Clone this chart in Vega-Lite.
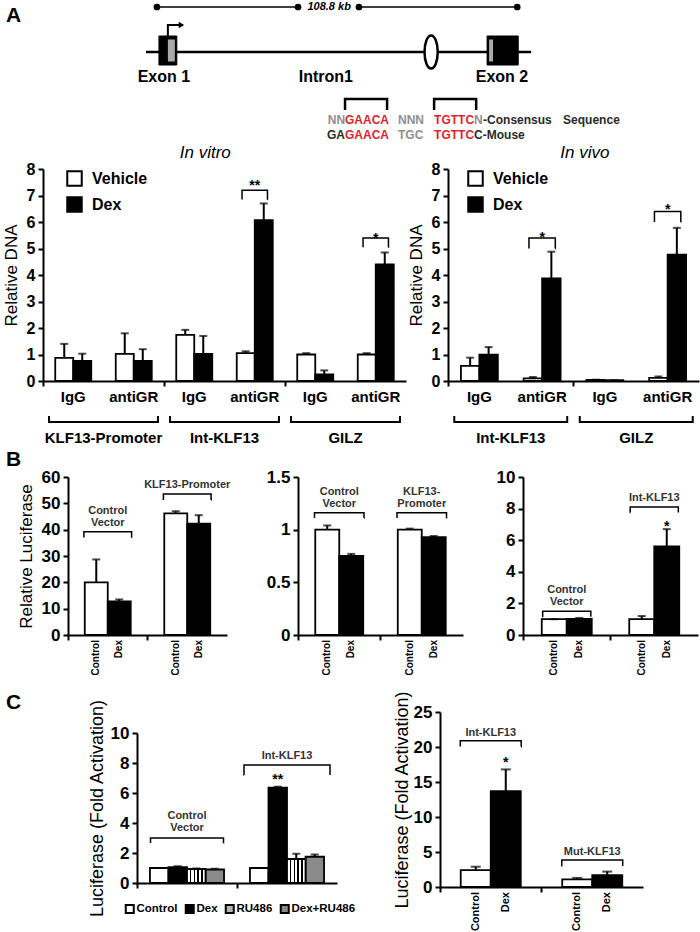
{
"$schema":"https://vega.github.io/schema/vega-lite/v6.json",
"width":700,"height":932,"autosize":{"type":"none"},"padding":0,"background":"white",
"config":{"view":{"stroke":null},"font":"Liberation Sans","mark":{"color":"black"},
"axis":{"domainColor":"black","domainWidth":2,"tickColor":"black","tickWidth":2,"labelColor":"black","labelFont":"Liberation Sans","labelFontWeight":"bold","titleFont":"Liberation Sans","titleFontWeight":"normal","titleColor":"black","grid":false},
"legend":{"labelFont":"Liberation Sans","labelColor":"black"},"text":{"font":"Liberation Sans","color":"black"}},
"datasets":{
"gene_scalebar":[{"x":0,"x2":42.6},{"x":61.0,"x2":108.8}],
"gene_dots":[{"x":0},{"x":42.6},{"x":61.0},{"x":108.8}],
"gene_scale_label":[{"x":52.0,"label":"108.8 kb"}],
"gene_body":[{"x":-3.3,"x2":113}],
"gene_exons":[{"exon":"Exon 1","x":0.6,"x2":6.0},{"exon":"Exon 2","x":99.7,"x2":109.1}],
"gene_exon_utr":[{"x":3.3,"x2":5.4},{"x":100.3,"x2":101.5}],
"gene_gre":[{"x":82.8}],
"gene_tss":[{"x":3.3,"y":10.4,"step":1},{"x":3.3,"y":11.5,"step":2},{"x":7.0,"y":11.5,"step":3}],
"gene_tss_head":[{"x":7.4,"y":11.5}],
"gene_labels":[{"x":2.1,"label":"Exon 1"},{"x":51.0,"label":"Intron1"},{"x":104.2,"label":"Exon 2"}],
"seq_brackets":[{"b":1,"x":56.8,"y":3.0,"step":1},{"b":1,"x":56.8,"y":4.1,"step":2},{"b":1,"x":69.5,"y":4.1,"step":3},{"b":1,"x":69.5,"y":3.0,"step":4},{"b":2,"x":83.7,"y":3.0,"step":1},{"b":2,"x":83.7,"y":4.1,"step":2},{"b":2,"x":96.4,"y":4.1,"step":3},{"b":2,"x":96.4,"y":3.0,"step":4}],
"seq_text":[{"x":51.57,"y":2.0,"text":"NN","kind":"spacer"},{"x":56.8,"y":2.0,"text":"GAACA","kind":"motif"},{"x":72.8,"y":2.0,"text":"NNN","kind":"spacer"},{"x":83.69,"y":2.0,"text":"TGTTC","kind":"motif"},{"x":95.77,"y":2.0,"text":"N","kind":"spacer"},{"x":98.49,"y":2.0,"text":"-Consensus","kind":"note"},{"x":122.66,"y":2.0,"text":"Sequence","kind":"note"},{"x":51.36,"y":0.5,"text":"GA","kind":"note"},{"x":56.8,"y":0.5,"text":"GAACA","kind":"motif"},{"x":72.8,"y":0.5,"text":"TGC","kind":"spacer"},{"x":83.69,"y":0.5,"text":"TGTTC","kind":"motif"},{"x":95.77,"y":0.5,"text":"C-Mouse","kind":"note"}],
"panel_labels":[{"x":-45.6,"y":12.4,"label":"A"},{"x":-45.6,"y":-32.0,"label":"B"},{"x":-45.6,"y":-56.3,"label":"C"}],
"invitro":[{"sample":"KLF13-Promoter|IgG","treatment":"Vehicle","value":0.87,"err":1.4},{"sample":"KLF13-Promoter|IgG","treatment":"Dex","value":0.76,"err":1.03},{"sample":"KLF13-Promoter|antiGR","treatment":"Vehicle","value":1.02,"err":1.8},{"sample":"KLF13-Promoter|antiGR","treatment":"Dex","value":0.76,"err":1.2},{"sample":"Int-KLF13|IgG","treatment":"Vehicle","value":1.74,"err":1.93},{"sample":"Int-KLF13|IgG","treatment":"Dex","value":1.02,"err":1.7},{"sample":"Int-KLF13|antiGR","treatment":"Vehicle","value":1.05,"err":1.12},{"sample":"Int-KLF13|antiGR","treatment":"Dex","value":6.07,"err":6.7},{"sample":"GILZ|IgG","treatment":"Vehicle","value":1.0,"err":1.05},{"sample":"GILZ|IgG","treatment":"Dex","value":0.25,"err":0.4},{"sample":"GILZ|antiGR","treatment":"Vehicle","value":1.0,"err":1.05},{"sample":"GILZ|antiGR","treatment":"Dex","value":4.4,"err":4.85}],
"invitro_sig":[{"sample":"Int-KLF13|antiGR","top":7.2,"low":6.85,"star":7.19,"label":"**"},{"sample":"GILZ|antiGR","top":5.4,"low":5.05,"star":5.19,"label":"*"}],
"invitro_groups":[{"target":"KLF13-Promoter"},{"target":"Int-KLF13"},{"target":"GILZ"}],
"invivo":[{"sample":"Int-KLF13|IgG","treatment":"Vehicle","value":0.57,"err":0.88},{"sample":"Int-KLF13|IgG","treatment":"Dex","value":0.99,"err":1.28},{"sample":"Int-KLF13|antiGR","treatment":"Vehicle","value":0.1,"err":0.15},{"sample":"Int-KLF13|antiGR","treatment":"Dex","value":3.87,"err":4.88},{"sample":"GILZ|IgG","treatment":"Vehicle","value":0.04,"err":0.05},{"sample":"GILZ|IgG","treatment":"Dex","value":0.03,"err":0.03},{"sample":"GILZ|antiGR","treatment":"Vehicle","value":0.12,"err":0.17},{"sample":"GILZ|antiGR","treatment":"Dex","value":4.77,"err":5.78}],
"invivo_sig":[{"sample":"Int-KLF13|antiGR","top":5.4,"low":5.0,"star":5.26,"label":"*"},{"sample":"GILZ|antiGR","top":6.4,"low":6.0,"star":6.32,"label":"*"}],
"invivo_groups":[{"target":"Int-KLF13"},{"target":"GILZ"}],
"b1":[{"vector":"Control Vector","treatment":"Control","value":20,"err":28.7},{"vector":"Control Vector","treatment":"Dex","value":12.8,"err":13.5},{"vector":"KLF13-Promoter","treatment":"Control","value":46.2,"err":47},{"vector":"KLF13-Promoter","treatment":"Dex","value":42.3,"err":45.5}],
"b1_groups":[{"vector":"Control Vector","label":"Control\nVector","top":39.2,"low":37.0},{"vector":"KLF13-Promoter","label":"KLF13-Promoter","top":53.5,"low":51.3}],
"b2":[{"vector":"Control Vector","treatment":"Control","value":1.0,"err":1.04},{"vector":"Control Vector","treatment":"Dex","value":0.75,"err":0.77},{"vector":"KLF13-Promoter","treatment":"Control","value":1.0,"err":1.01},{"vector":"KLF13-Promoter","treatment":"Dex","value":0.93,"err":0.94}],
"b2_groups":[{"vector":"Control Vector","label":"Control\nVector","top":1.16,"low":1.11},{"vector":"KLF13-Promoter","label":"KLF13-\nPromoter","top":1.16,"low":1.11}],
"b3":[{"vector":"Control Vector","treatment":"Control","value":1.0,"err":1.0},{"vector":"Control Vector","treatment":"Dex","value":1.02,"err":1.08},{"vector":"Int-KLF13","treatment":"Control","value":1.0,"err":1.2},{"vector":"Int-KLF13","treatment":"Dex","value":5.6,"err":6.7}],
"b3_groups":[{"vector":"Control Vector","label":"Control\nVector","top":1.5,"low":1.15},{"vector":"Int-KLF13","label":"Int-KLF13","top":8.1,"low":7.75}],
"b3_sig":[{"vector":"Int-KLF13","treatment":"Dex","star":6.6,"label":"*"}],
"c1":[{"vector":"Control Vector","treatment":"Control","value":1.0,"err":1.0},{"vector":"Control Vector","treatment":"Dex","value":1.05,"err":1.12},{"vector":"Control Vector","treatment":"RU486","value":0.93,"err":0.97},{"vector":"Control Vector","treatment":"Dex+RU486","value":0.9,"err":0.95},{"vector":"Int-KLF13","treatment":"Control","value":1.0,"err":1.0},{"vector":"Int-KLF13","treatment":"Dex","value":6.35,"err":6.42},{"vector":"Int-KLF13","treatment":"RU486","value":1.6,"err":1.95},{"vector":"Int-KLF13","treatment":"Dex+RU486","value":1.75,"err":1.9}],
"c1_groups":[{"vector":"Control Vector","label":"Control\nVector","top":3.0,"low":2.67},{"vector":"Int-KLF13","label":"Int-KLF13","top":7.87,"low":7.2}],
"c1_sig":[{"vector":"Int-KLF13","treatment":"Dex","star":6.63,"label":"**"}],
"c2":[{"vector":"Int-KLF13","treatment":"Control","value":2.4,"err":2.9},{"vector":"Int-KLF13","treatment":"Dex","value":13.7,"err":16.8},{"vector":"Mut-KLF13","treatment":"Control","value":1.1,"err":1.3},{"vector":"Mut-KLF13","treatment":"Dex","value":1.7,"err":2.2}],
"c2_groups":[{"vector":"Int-KLF13","label":"Int-KLF13","top":20.9,"low":20.05},{"vector":"Mut-KLF13","label":"Mut-KLF13","top":3.86,"low":3.0}],
"c2_sig":[{"vector":"Int-KLF13","treatment":"Dex","star":17.2,"label":"*"}]
},
"layer":[
{"encoding":{"x":{"field":"x","type":"quantitative","scale":{"domain":[-47.4,164],"range":[0,700],"nice":false,"zero":false},"axis":null}},
 "layer":[
  {"data":{"name":"gene_scalebar"},"mark":{"type":"rule","strokeWidth":1.5},"encoding":{"x2":{"field":"x2"},"y":{"datum":13.3,"type":"quantitative","scale":{"domain":[0,14],"range":[140,0],"nice":false,"zero":false},"axis":null}}},
  {"data":{"name":"gene_dots"},"mark":{"type":"point","filled":true,"size":45,"opacity":1},"encoding":{"y":{"datum":13.3,"type":"quantitative","axis":null}}},
  {"data":{"name":"gene_scale_label"},"mark":{"type":"text","fontSize":11,"fontWeight":"bold","fontStyle":"italic","baseline":"middle"},"encoding":{"y":{"datum":13.3,"type":"quantitative","axis":null},"text":{"field":"label"}}},
  {"data":{"name":"gene_body"},"mark":{"type":"rule","strokeWidth":2.5},"encoding":{"x2":{"field":"x2"},"y":{"datum":8.8,"type":"quantitative","axis":null}}},
  {"data":{"name":"gene_exons"},"mark":{"type":"rect","fill":"black","stroke":"black","strokeWidth":1},"encoding":{"x2":{"field":"x2"},"y":{"datum":7.5,"type":"quantitative","axis":null},"y2":{"datum":10.4}}},
  {"data":{"name":"gene_exon_utr"},"mark":{"type":"rect","fill":"#a9a9a9"},"encoding":{"x2":{"field":"x2"},"y":{"datum":7.85,"type":"quantitative","axis":null},"y2":{"datum":10.05}}},
  {"data":{"name":"gene_gre"},"mark":{"type":"point","shape":"M0,-1A0.4,1,0,1,1,0,1A0.4,1,0,1,1,0,-1Z","size":1089,"filled":true,"fill":"white","stroke":"black","strokeWidth":2.5,"opacity":1},"encoding":{"y":{"datum":8.8,"type":"quantitative","axis":null}}},
  {"data":{"name":"gene_tss"},"mark":{"type":"line","strokeWidth":2},"encoding":{"y":{"field":"y","type":"quantitative","axis":null},"order":{"field":"step"}}},
  {"data":{"name":"gene_tss_head"},"mark":{"type":"point","shape":"triangle-right","filled":true,"size":40,"opacity":1},"encoding":{"y":{"field":"y","type":"quantitative","axis":null}}},
  {"data":{"name":"gene_labels"},"mark":{"type":"text","fontSize":16,"fontWeight":"bold","baseline":"middle"},"encoding":{"y":{"datum":6.3,"type":"quantitative","axis":null},"text":{"field":"label"}}},
  {"data":{"name":"seq_brackets"},"mark":{"type":"line","strokeWidth":2.5},"encoding":{"y":{"field":"y","type":"quantitative","axis":null},"detail":{"field":"b"},"order":{"field":"step"}}},
  {"data":{"name":"seq_text"},"mark":{"type":"text","align":"left","baseline":"middle","fontSize":12,"fontWeight":"bold"},"encoding":{"y":{"field":"y","type":"quantitative","axis":null},"text":{"field":"text"},"fill":{"field":"kind","type":"nominal","scale":{"domain":["spacer","motif","note"],"range":["#8f8f8f","#d9262e","#2a2a2a"]},"legend":null}}},
  {"data":{"name":"panel_labels"},"mark":{"type":"text","align":"left","baseline":"middle","fontSize":21,"fontWeight":"bold"},"encoding":{"y":{"field":"y","type":"quantitative","axis":null},"text":{"field":"label"}}}
 ]},
{"layer":[
  {"layer":[
   {"data":{"name":"invitro"},"mark":{"type":"bar","stroke":"black","strokeWidth":1.8},
    "encoding":{
     "x":{"field":"sample","type":"nominal","scale":{"domain":["KLF13-Promoter|IgG","KLF13-Promoter|antiGR","Int-KLF13|IgG","Int-KLF13|antiGR","GILZ|IgG","GILZ|antiGR"],"range":[43,406],"paddingInner":0,"paddingOuter":0},"axis":{"orient":"bottom","offset":-551,"title":null,"labelExpr":"split(datum.label,'|')[1]","ticks":false,"tickSize":0,"labelPadding":8,"labelFontSize":15,"labelAngle":0}},
     "xOffset":{"field":"treatment","type":"nominal","scale":{"domain":["Vehicle","Dex"],"paddingInner":0,"paddingOuter":0.68}},
     "y":{"field":"value","type":"quantitative","stack":null,"scale":{"domain":[0,8],"range":[381,169],"nice":false},"axis":{"orient":"left","offset":-43,"values":[0,1,2,3,4,5,6,7,8],"format":"~g","title":"Relative DNA","titleFontSize":17,"titlePadding":6,"labelFontSize":16,"tickSize":5,"labelPadding":3}},
     "fill":{"field":"treatment","type":"nominal","scale":{"domain":["Vehicle","Dex"],"range":["white","black"]},"legend":{"orient":"none","legendX":66,"legendY":170,"title":null,"symbolType":"square","symbolSize":210,"symbolStrokeColor":"black","symbolStrokeWidth":2,"labelFontSize":16,"labelFontWeight":"bold","labelOffset":9,"rowPadding":3,"padding":0}}}},
   {"data":{"name":"invitro"},"mark":{"type":"rule","strokeWidth":2},"encoding":{"x":{"field":"sample","type":"nominal"},"xOffset":{"field":"treatment","type":"nominal"},"y":{"field":"value","type":"quantitative"},"y2":{"field":"err"}}},
   {"data":{"name":"invitro"},"mark":{"type":"tick","orient":"horizontal","size":8,"thickness":2},"encoding":{"x":{"field":"sample","type":"nominal"},"xOffset":{"field":"treatment","type":"nominal"},"y":{"field":"err","type":"quantitative"}}},
   {"data":{"name":"invitro_sig"},"mark":{"type":"bar","width":{"band":0.42},"fill":"transparent","stroke":"black","strokeWidth":1.5,"strokeDash":[34.7,25.4,9.3,0]},"encoding":{"x":{"field":"sample","type":"nominal"},"y":{"field":"top","type":"quantitative"},"y2":{"field":"low"}}},
   {"data":{"name":"invitro_sig"},"mark":{"type":"text","fontSize":14,"fontWeight":"bold","baseline":"alphabetic"},"encoding":{"x":{"field":"sample","type":"nominal"},"y":{"field":"star","type":"quantitative"},"text":{"field":"label"}}},
   {"data":{"values":[{"title":"In vitro"}]},"mark":{"type":"text","fontSize":17,"fontStyle":"italic","baseline":"middle","dx":11},"encoding":{"x":{"datum":"Int-KLF13|IgG"},"y":{"datum":8.6},"text":{"field":"title"}}}
  ]},
  {"data":{"name":"invitro_groups"},"layer":[
   {"mark":{"type":"bar","width":{"band":0.9},"fill":"transparent","stroke":"black","strokeWidth":2,"strokeDash":[0,108.9,121.1,0]},"encoding":{"x":{"field":"target","type":"nominal","scale":{"domain":["KLF13-Promoter","Int-KLF13","GILZ"],"range":[43,406],"paddingInner":0,"paddingOuter":0},"axis":{"orient":"bottom","offset":-551,"labels":false,"domain":false,"ticks":true,"tickSize":5,"bandPosition":0,"title":null}},"y":{"datum":-1.55},"y2":{"datum":-1.32}}},
   {"mark":{"type":"text","fontSize":15,"fontWeight":"bold","baseline":"middle"},"encoding":{"x":{"field":"target","type":"nominal"},"y":{"datum":-2.15},"text":{"field":"target"}}}
  ]}
 ],
 "resolve":{"scale":{"x":"independent"},"axis":{"x":"independent"}}},
{"layer":[
  {"layer":[
   {"data":{"name":"invivo"},"mark":{"type":"bar","stroke":"black","strokeWidth":1.8},
    "encoding":{
     "x":{"field":"sample","type":"nominal","scale":{"domain":["Int-KLF13|IgG","Int-KLF13|antiGR","GILZ|IgG","GILZ|antiGR"],"range":[448,699],"paddingInner":0,"paddingOuter":0},"axis":{"orient":"bottom","offset":-551,"title":null,"labelExpr":"split(datum.label,'|')[1]","ticks":false,"tickSize":0,"labelPadding":8,"labelFontSize":15,"labelAngle":0}},
     "xOffset":{"field":"treatment","type":"nominal","scale":{"domain":["Vehicle","Dex"],"paddingInner":0,"paddingOuter":0.7}},
     "y":{"field":"value","type":"quantitative","stack":null,"scale":{"domain":[0,8],"range":[381,169],"nice":false},"axis":{"orient":"left","offset":-448,"values":[0,1,2,3,4,5,6,7,8],"format":"~g","title":"Relative DNA","titleFontSize":17,"titlePadding":6,"labelFontSize":16,"tickSize":5,"labelPadding":3}},
     "fill":{"field":"treatment","type":"nominal","scale":{"domain":["Vehicle","Dex"],"range":["white","black"]},"legend":{"orient":"none","legendX":467,"legendY":170,"title":null,"symbolType":"square","symbolSize":210,"symbolStrokeColor":"black","symbolStrokeWidth":2,"labelFontSize":16,"labelFontWeight":"bold","labelOffset":9,"rowPadding":3,"padding":0}}}},
   {"data":{"name":"invivo"},"mark":{"type":"rule","strokeWidth":2},"encoding":{"x":{"field":"sample","type":"nominal"},"xOffset":{"field":"treatment","type":"nominal"},"y":{"field":"value","type":"quantitative"},"y2":{"field":"err"}}},
   {"data":{"name":"invivo"},"mark":{"type":"tick","orient":"horizontal","size":8,"thickness":2},"encoding":{"x":{"field":"sample","type":"nominal"},"xOffset":{"field":"treatment","type":"nominal"},"y":{"field":"err","type":"quantitative"}}},
   {"data":{"name":"invivo_sig"},"mark":{"type":"bar","width":{"band":0.42},"fill":"transparent","stroke":"black","strokeWidth":1.5,"strokeDash":[36.96,26.36,10.6,0]},"encoding":{"x":{"field":"sample","type":"nominal"},"y":{"field":"top","type":"quantitative"},"y2":{"field":"low"}}},
   {"data":{"name":"invivo_sig"},"mark":{"type":"text","fontSize":14,"fontWeight":"bold","baseline":"alphabetic"},"encoding":{"x":{"field":"sample","type":"nominal"},"y":{"field":"star","type":"quantitative"},"text":{"field":"label"}}},
   {"data":{"values":[{"title":"In vivo"}]},"mark":{"type":"text","fontSize":17,"fontStyle":"italic","baseline":"middle","dx":-20},"encoding":{"x":{"datum":"GILZ|IgG"},"y":{"datum":8.6},"text":{"field":"title"}}}
  ]},
  {"data":{"name":"invivo_groups"},"layer":[
   {"mark":{"type":"bar","width":{"band":0.9},"fill":"transparent","stroke":"black","strokeWidth":2,"strokeDash":[0,112.95,125.15,0]},"encoding":{"x":{"field":"target","type":"nominal","scale":{"domain":["Int-KLF13","GILZ"],"range":[448,699],"paddingInner":0,"paddingOuter":0},"axis":{"orient":"bottom","offset":-551,"labels":false,"domain":false,"ticks":true,"tickSize":5,"bandPosition":0,"title":null}},"y":{"datum":-1.55},"y2":{"datum":-1.32}}},
   {"mark":{"type":"text","fontSize":15,"fontWeight":"bold","baseline":"middle"},"encoding":{"x":{"field":"target","type":"nominal"},"y":{"datum":-2.15},"text":{"field":"target"}}}
  ]}
 ],
 "resolve":{"scale":{"x":"independent"},"axis":{"x":"independent"}}},
{"layer":[
  {"data":{"name":"b1"},"mark":{"type":"bar","stroke":"black","strokeWidth":1.8},"encoding":{
   "x":{"field":"vector","type":"nominal","scale":{"domain":["Control Vector","KLF13-Promoter"],"range":[68,227],"paddingInner":0,"paddingOuter":0},"axis":{"orient":"bottom","offset":-297,"labels":false,"ticks":true,"tickSize":5,"bandPosition":0,"title":null}},
   "xOffset":{"field":"treatment","type":"nominal","scale":{"domain":["Control","Dex"],"paddingInner":0,"paddingOuter":0.73}},
   "y":{"field":"value","type":"quantitative","stack":null,"scale":{"domain":[0,60],"range":[635,477],"nice":false},"axis":{"orient":"left","offset":-68,"values":[0,10,20,30,40,50,60],"format":"~g","title":"Relative Luciferase","titleFontSize":17,"titlePadding":6,"labelFontSize":17,"tickSize":5,"labelPadding":3}},
   "fill":{"field":"treatment","type":"nominal","scale":{"domain":["Control","Dex"],"range":["white","black"]},"legend":null}}},
  {"data":{"name":"b1"},"mark":{"type":"rule","strokeWidth":2},"encoding":{"x":{"field":"vector","type":"nominal"},"xOffset":{"field":"treatment","type":"nominal"},"y":{"field":"value","type":"quantitative"},"y2":{"field":"err"}}},
  {"data":{"name":"b1"},"mark":{"type":"tick","orient":"horizontal","size":8,"thickness":2},"encoding":{"x":{"field":"vector","type":"nominal"},"xOffset":{"field":"treatment","type":"nominal"},"y":{"field":"err","type":"quantitative"}}},
  {"data":{"name":"b1"},"mark":{"type":"text","angle":270,"align":"right","baseline":"middle","dx":-5,"fontSize":10,"fontWeight":"bold"},"encoding":{"x":{"field":"vector","type":"nominal"},"xOffset":{"field":"treatment","type":"nominal"},"y":{"datum":0},"text":{"field":"treatment"}}},
  {"data":{"name":"b1_groups"},"mark":{"type":"bar","width":{"band":0.6},"fill":"transparent","stroke":"black","strokeWidth":1.5,"strokeDash":[53.5,47.7,5.8,0]},"encoding":{"x":{"field":"vector","type":"nominal"},"y":{"field":"top","type":"quantitative"},"y2":{"field":"low"}}},
  {"data":{"name":"b1_groups"},"transform":[{"filter":"indexof(datum.label, '\\n') >= 0"}],"mark":{"type":"text","fontSize":11,"fontWeight":"bold","baseline":"bottom","dy":-16,"lineBreak":"\n","lineHeight":12,"color":"#333333"},"encoding":{"x":{"field":"vector","type":"nominal"},"y":{"field":"top","type":"quantitative"},"text":{"field":"label"}}},
  {"data":{"name":"b1_groups"},"transform":[{"filter":"indexof(datum.label, '\\n') < 0"}],"mark":{"type":"text","fontSize":11,"fontWeight":"bold","baseline":"bottom","dy":-4,"color":"#333333"},"encoding":{"x":{"field":"vector","type":"nominal"},"y":{"field":"top","type":"quantitative"},"text":{"field":"label"}}}
 ]},
{"layer":[
  {"data":{"name":"b2"},"mark":{"type":"bar","stroke":"black","strokeWidth":1.8},"encoding":{
   "x":{"field":"vector","type":"nominal","scale":{"domain":["Control Vector","KLF13-Promoter"],"range":[298,463],"paddingInner":0,"paddingOuter":0},"axis":{"orient":"bottom","offset":-297,"labels":false,"ticks":true,"tickSize":5,"bandPosition":0,"title":null}},
   "xOffset":{"field":"treatment","type":"nominal","scale":{"domain":["Control","Dex"],"paddingInner":0,"paddingOuter":0.72}},
   "y":{"field":"value","type":"quantitative","stack":null,"scale":{"domain":[0,1.5],"range":[635,477],"nice":false},"axis":{"orient":"left","offset":-298,"values":[0,0.5,1,1.5],"format":"~g","title":null,"labelFontSize":17,"tickSize":5,"labelPadding":3}},
   "fill":{"field":"treatment","type":"nominal","scale":{"domain":["Control","Dex"],"range":["white","black"]},"legend":null}}},
  {"data":{"name":"b2"},"mark":{"type":"rule","strokeWidth":2},"encoding":{"x":{"field":"vector","type":"nominal"},"xOffset":{"field":"treatment","type":"nominal"},"y":{"field":"value","type":"quantitative"},"y2":{"field":"err"}}},
  {"data":{"name":"b2"},"mark":{"type":"tick","orient":"horizontal","size":8,"thickness":2},"encoding":{"x":{"field":"vector","type":"nominal"},"xOffset":{"field":"treatment","type":"nominal"},"y":{"field":"err","type":"quantitative"}}},
  {"data":{"name":"b2"},"mark":{"type":"text","angle":270,"align":"right","baseline":"middle","dx":-5,"fontSize":10,"fontWeight":"bold"},"encoding":{"x":{"field":"vector","type":"nominal"},"xOffset":{"field":"treatment","type":"nominal"},"y":{"datum":0},"text":{"field":"treatment"}}},
  {"data":{"name":"b2_groups"},"mark":{"type":"bar","width":{"band":0.6},"fill":"transparent","stroke":"black","strokeWidth":1.5,"strokeDash":[54.8,49.5,5.3,0]},"encoding":{"x":{"field":"vector","type":"nominal"},"y":{"field":"top","type":"quantitative"},"y2":{"field":"low"}}},
  {"data":{"name":"b2_groups"},"mark":{"type":"text","fontSize":11,"fontWeight":"bold","baseline":"bottom","dy":-16,"lineBreak":"\n","lineHeight":12,"color":"#333333"},"encoding":{"x":{"field":"vector","type":"nominal"},"y":{"field":"top","type":"quantitative"},"text":{"field":"label"}}}
 ]},
{"layer":[
  {"data":{"name":"b3"},"mark":{"type":"bar","stroke":"black","strokeWidth":1.8},"encoding":{
   "x":{"field":"vector","type":"nominal","scale":{"domain":["Control Vector","Int-KLF13"],"range":[523,698],"paddingInner":0,"paddingOuter":0},"axis":{"orient":"bottom","offset":-297,"labels":false,"ticks":true,"tickSize":5,"bandPosition":0,"title":null}},
   "xOffset":{"field":"treatment","type":"nominal","scale":{"domain":["Control","Dex"],"paddingInner":0,"paddingOuter":0.75}},
   "y":{"field":"value","type":"quantitative","stack":null,"scale":{"domain":[0,10],"range":[635,477],"nice":false},"axis":{"orient":"left","offset":-523,"values":[0,2,4,6,8,10],"format":"~g","title":null,"labelFontSize":17,"tickSize":5,"labelPadding":3}},
   "fill":{"field":"treatment","type":"nominal","scale":{"domain":["Control","Dex"],"range":["white","black"]},"legend":null}}},
  {"data":{"name":"b3"},"mark":{"type":"rule","strokeWidth":2},"encoding":{"x":{"field":"vector","type":"nominal"},"xOffset":{"field":"treatment","type":"nominal"},"y":{"field":"value","type":"quantitative"},"y2":{"field":"err"}}},
  {"data":{"name":"b3"},"mark":{"type":"tick","orient":"horizontal","size":8,"thickness":2},"encoding":{"x":{"field":"vector","type":"nominal"},"xOffset":{"field":"treatment","type":"nominal"},"y":{"field":"err","type":"quantitative"}}},
  {"data":{"name":"b3"},"mark":{"type":"text","angle":270,"align":"right","baseline":"middle","dx":-5,"fontSize":10,"fontWeight":"bold"},"encoding":{"x":{"field":"vector","type":"nominal"},"xOffset":{"field":"treatment","type":"nominal"},"y":{"datum":0},"text":{"field":"treatment"}}},
  {"data":{"name":"b3_groups"},"mark":{"type":"bar","width":{"band":0.55},"fill":"transparent","stroke":"black","strokeWidth":1.5,"strokeDash":[53.6,48.1,5.5,0]},"encoding":{"x":{"field":"vector","type":"nominal"},"y":{"field":"top","type":"quantitative"},"y2":{"field":"low"}}},
  {"data":{"name":"b3_groups"},"transform":[{"filter":"indexof(datum.label, '\\n') >= 0"}],"mark":{"type":"text","fontSize":11,"fontWeight":"bold","baseline":"bottom","dy":-16,"lineBreak":"\n","lineHeight":12,"color":"#333333"},"encoding":{"x":{"field":"vector","type":"nominal"},"y":{"field":"top","type":"quantitative"},"text":{"field":"label"}}},
  {"data":{"name":"b3_groups"},"transform":[{"filter":"indexof(datum.label, '\\n') < 0"}],"mark":{"type":"text","fontSize":11,"fontWeight":"bold","baseline":"bottom","dy":-4,"color":"#333333"},"encoding":{"x":{"field":"vector","type":"nominal"},"y":{"field":"top","type":"quantitative"},"text":{"field":"label"}}},
  {"data":{"name":"b3_sig"},"mark":{"type":"text","fontSize":14,"fontWeight":"bold","baseline":"alphabetic"},"encoding":{"x":{"field":"vector","type":"nominal"},"xOffset":{"field":"treatment","type":"nominal"},"y":{"field":"star","type":"quantitative"},"text":{"field":"label"}}}
 ]},
{"layer":[
  {"data":{"name":"c1"},"mark":{"type":"bar","stroke":"black","strokeWidth":1.8},"encoding":{
   "x":{"field":"vector","type":"nominal","scale":{"domain":["Control Vector","Int-KLF13"],"range":[137,337],"paddingInner":0,"paddingOuter":0},"axis":{"orient":"bottom","offset":-49,"labels":false,"ticks":true,"tickSize":5,"bandPosition":0,"title":null}},
   "xOffset":{"field":"treatment","type":"nominal","scale":{"domain":["Control","Dex","RU486","Dex+RU486"],"paddingInner":0,"paddingOuter":0.7}},
   "y":{"field":"value","type":"quantitative","stack":null,"scale":{"domain":[0,10],"range":[883,733],"nice":false},"axis":{"orient":"left","offset":-137,"values":[0,2,4,6,8,10],"format":"~g","title":"Luciferase (Fold Activation)","titleFontSize":18,"titlePadding":4,"labelFontSize":17,"tickSize":5,"labelPadding":3}},
   "fill":{"field":"treatment","type":"nominal","scale":{"domain":["Control","Dex","RU486","Dex+RU486"],"range":["white","black","#b5b5b5","#8a8a8a"]},"legend":{"orient":"none","legendX":124,"legendY":903,"direction":"horizontal","columns":4,"title":null,"symbolType":"square","symbolSize":64,"symbolStrokeColor":"black","symbolStrokeWidth":2,"labelFontSize":11.5,"labelFontWeight":"bold","labelOffset":1,"columnPadding":3,"padding":0}}}},
  {"data":{"name":"c1"},"transform":[{"filter":"datum.treatment === 'RU486'"}],"mark":{"type":"bar","stroke":"black","strokeWidth":1.8,"fill":{"gradient":"linear","x1":0,"y1":0,"x2":1,"y2":0,"stops":[{"offset":0,"color":"white"},{"offset":0.16,"color":"white"},{"offset":0.16,"color":"black"},{"offset":0.24,"color":"black"},{"offset":0.24,"color":"white"},{"offset":0.36,"color":"white"},{"offset":0.36,"color":"black"},{"offset":0.44,"color":"black"},{"offset":0.44,"color":"white"},{"offset":0.56,"color":"white"},{"offset":0.56,"color":"black"},{"offset":0.64,"color":"black"},{"offset":0.64,"color":"white"},{"offset":0.76,"color":"white"},{"offset":0.76,"color":"black"},{"offset":0.84,"color":"black"},{"offset":0.84,"color":"white"},{"offset":1,"color":"white"}]}},"encoding":{"x":{"field":"vector","type":"nominal"},"xOffset":{"field":"treatment","type":"nominal"},"y":{"field":"value","type":"quantitative","stack":null}}},
  {"data":{"name":"c1"},"mark":{"type":"rule","strokeWidth":2},"encoding":{"x":{"field":"vector","type":"nominal"},"xOffset":{"field":"treatment","type":"nominal"},"y":{"field":"value","type":"quantitative"},"y2":{"field":"err"}}},
  {"data":{"name":"c1"},"mark":{"type":"tick","orient":"horizontal","size":8,"thickness":2},"encoding":{"x":{"field":"vector","type":"nominal"},"xOffset":{"field":"treatment","type":"nominal"},"y":{"field":"err","type":"quantitative"}}},
  {"data":{"name":"c1_groups"},"transform":[{"filter":"datum.vector === 'Control Vector'"}],"mark":{"type":"bar","width":{"band":0.73},"fill":"transparent","stroke":"black","strokeWidth":1.5,"strokeDash":[78,73,5,0]},"encoding":{"x":{"field":"vector","type":"nominal"},"y":{"field":"top","type":"quantitative"},"y2":{"field":"low"}}},
  {"data":{"name":"c1_groups"},"transform":[{"filter":"datum.vector === 'Int-KLF13'"}],"mark":{"type":"bar","width":{"band":0.86},"fill":"transparent","stroke":"black","strokeWidth":1.5,"strokeDash":[96,86,10,0]},"encoding":{"x":{"field":"vector","type":"nominal"},"y":{"field":"top","type":"quantitative"},"y2":{"field":"low"}}},
  {"data":{"name":"c1_groups"},"transform":[{"filter":"indexof(datum.label, '\\n') >= 0"}],"mark":{"type":"text","fontSize":11,"fontWeight":"bold","baseline":"bottom","dy":-17,"lineBreak":"\n","lineHeight":12,"color":"#333333"},"encoding":{"x":{"field":"vector","type":"nominal"},"y":{"field":"top","type":"quantitative"},"text":{"field":"label"}}},
  {"data":{"name":"c1_groups"},"transform":[{"filter":"indexof(datum.label, '\\n') < 0"}],"mark":{"type":"text","fontSize":11,"fontWeight":"bold","baseline":"bottom","dy":-4,"color":"#333333"},"encoding":{"x":{"field":"vector","type":"nominal"},"y":{"field":"top","type":"quantitative"},"text":{"field":"label"}}},
  {"data":{"name":"c1_sig"},"mark":{"type":"text","fontSize":14,"fontWeight":"bold","baseline":"alphabetic"},"encoding":{"x":{"field":"vector","type":"nominal"},"xOffset":{"field":"treatment","type":"nominal"},"y":{"field":"star","type":"quantitative"},"text":{"field":"label"}}}
 ]},
{"layer":[
  {"data":{"name":"c2"},"mark":{"type":"bar","stroke":"black","strokeWidth":1.8},"encoding":{
   "x":{"field":"vector","type":"nominal","scale":{"domain":["Int-KLF13","Mut-KLF13"],"range":[440,643],"paddingInner":0,"paddingOuter":0},"axis":{"orient":"bottom","offset":-45,"labels":false,"ticks":true,"tickSize":5,"bandPosition":0,"title":null}},
   "xOffset":{"field":"treatment","type":"nominal","scale":{"domain":["Control","Dex"],"paddingInner":0,"paddingOuter":0.69}},
   "y":{"field":"value","type":"quantitative","stack":null,"scale":{"domain":[0,25],"range":[887,712],"nice":false},"axis":{"orient":"left","offset":-440,"values":[0,5,10,15,20,25],"format":"~g","title":"Luciferase (Fold Activation)","titleFontSize":18,"titlePadding":2,"labelFontSize":17,"tickSize":5,"labelPadding":3}},
   "fill":{"field":"treatment","type":"nominal","scale":{"domain":["Control","Dex"],"range":["white","black"]},"legend":null}}},
  {"data":{"name":"c2"},"mark":{"type":"rule","strokeWidth":2},"encoding":{"x":{"field":"vector","type":"nominal"},"xOffset":{"field":"treatment","type":"nominal"},"y":{"field":"value","type":"quantitative"},"y2":{"field":"err"}}},
  {"data":{"name":"c2"},"mark":{"type":"tick","orient":"horizontal","size":10,"thickness":2},"encoding":{"x":{"field":"vector","type":"nominal"},"xOffset":{"field":"treatment","type":"nominal"},"y":{"field":"err","type":"quantitative"}}},
  {"data":{"name":"c2"},"mark":{"type":"text","angle":270,"align":"right","baseline":"middle","dx":-5,"fontSize":11,"fontWeight":"bold"},"encoding":{"x":{"field":"vector","type":"nominal"},"xOffset":{"field":"treatment","type":"nominal"},"y":{"datum":0},"text":{"field":"treatment"}}},
  {"data":{"name":"c2_groups"},"mark":{"type":"bar","width":{"band":0.6},"fill":"transparent","stroke":"black","strokeWidth":1.5,"strokeDash":[66.9,60.9,6,0]},"encoding":{"x":{"field":"vector","type":"nominal"},"y":{"field":"top","type":"quantitative"},"y2":{"field":"low"}}},
  {"data":{"name":"c2_groups"},"mark":{"type":"text","fontSize":11,"fontWeight":"bold","baseline":"bottom","dy":-3,"color":"#333333"},"encoding":{"x":{"field":"vector","type":"nominal"},"y":{"field":"top","type":"quantitative"},"text":{"field":"label"}}},
  {"data":{"name":"c2_sig"},"mark":{"type":"text","fontSize":14,"fontWeight":"bold","baseline":"alphabetic"},"encoding":{"x":{"field":"vector","type":"nominal"},"xOffset":{"field":"treatment","type":"nominal"},"y":{"field":"star","type":"quantitative"},"text":{"field":"label"}}}
 ]}
],
"resolve":{"scale":{"x":"independent","y":"independent","xOffset":"independent","fill":"independent"},"axis":{"x":"independent","y":"independent"},"legend":{"fill":"independent"}}
}
